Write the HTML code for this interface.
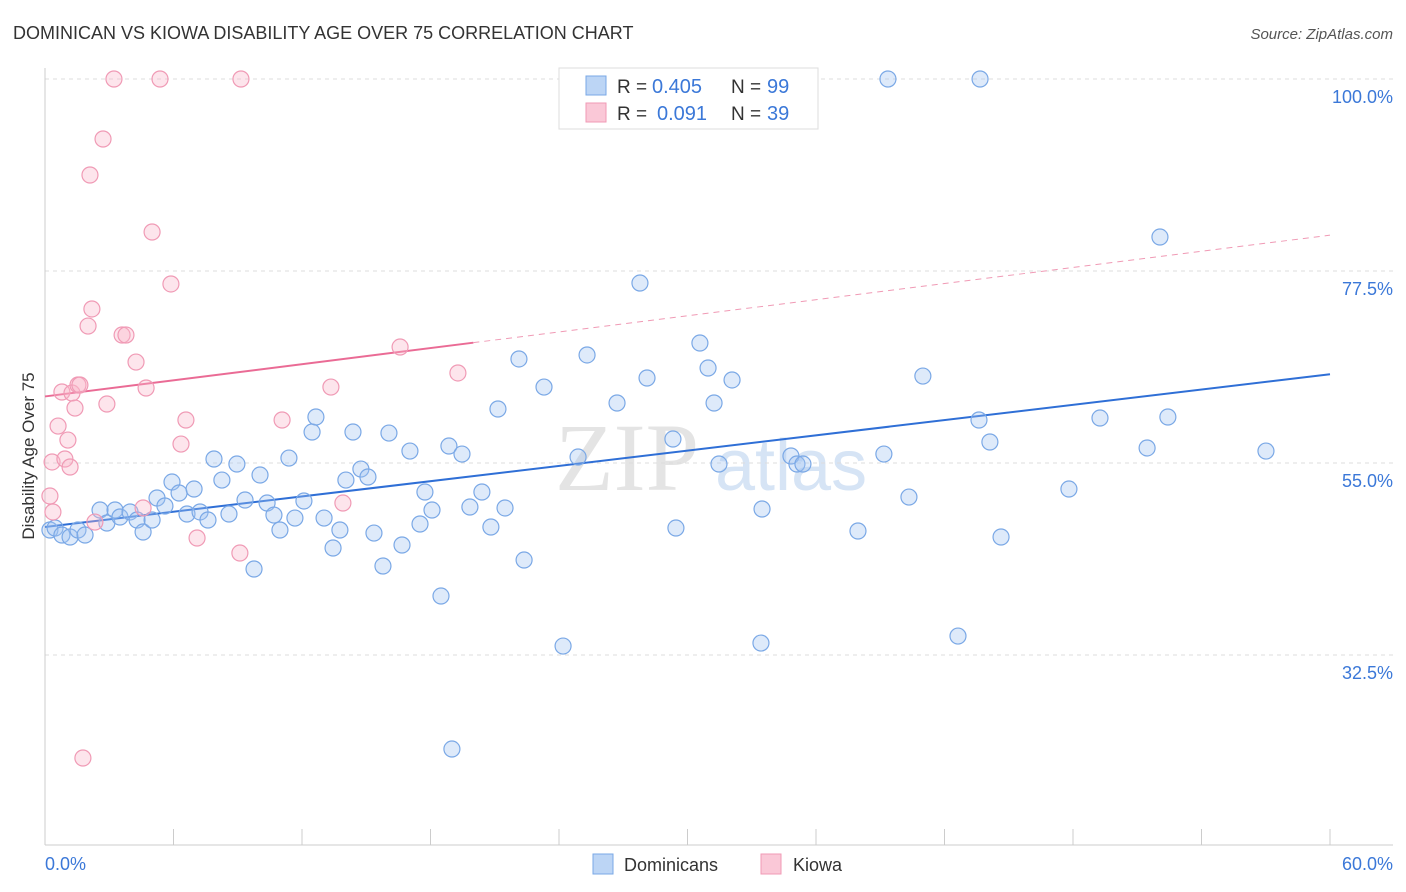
<!DOCTYPE html>
<html><head><meta charset="utf-8"><style>
body{margin:0;background:#fff;font-family:"Liberation Sans",sans-serif;}
#wrap{position:relative;width:1406px;height:892px;overflow:hidden;}
</style></head><body>
<div id="wrap">
<svg id="svg" width="1406" height="892" xmlns="http://www.w3.org/2000/svg">
<text x="13" y="39" font-size="18" fill="#333">DOMINICAN VS KIOWA DISABILITY AGE OVER 75 CORRELATION CHART</text>
<text x="1393" y="39" font-size="15" fill="#555" font-style="italic" text-anchor="end">Source: ZipAtlas.com</text>
<text x="555" y="490" font-size="96" fill="#e4e4e4" font-family="Liberation Serif,serif">ZIP</text>
<text x="715" y="490" font-size="72" fill="#d6e4f5">atlas</text>
<g id="grid"></g><g id="axes"></g><g id="trend"></g><g id="pts"></g>
<text transform="translate(34,456) rotate(-90)" font-size="17" fill="#333" text-anchor="middle">Disability Age Over 75</text>
<text x="45" y="870" font-size="18" fill="#3b78d8">0.0%</text>
<text x="1393" y="870" font-size="18" fill="#3b78d8" text-anchor="end">60.0%</text>
<g>
<rect x="559" y="68" width="259" height="61" fill="#fff" stroke="#ddd"/>
<rect x="586" y="76" width="20" height="19" fill="#bcd5f5" stroke="#7aa8e6"/>
<rect x="586" y="103" width="20" height="19" fill="#fac8d7" stroke="#f09ab5"/>
<text x="617" y="93" font-size="19" fill="#333">R =</text>
<text x="652" y="93" font-size="20" fill="#3b78d8">0.405</text>
<text x="731" y="93" font-size="19" fill="#333">N =</text>
<text x="767" y="93" font-size="20" fill="#3b78d8">99</text>
<text x="617" y="120" font-size="19" fill="#333">R =</text>
<text x="657" y="120" font-size="20" fill="#3b78d8">0.091</text>
<text x="731" y="120" font-size="19" fill="#333">N =</text>
<text x="767" y="120" font-size="20" fill="#3b78d8">39</text>
</g>
<g>
<rect x="593" y="854" width="20" height="20" fill="#bcd5f5" stroke="#7aa8e6"/>
<text x="624" y="871" font-size="18" fill="#333">Dominicans</text></g>
<g>
<rect x="761" y="854" width="20" height="20" fill="#fac8d7" stroke="#f09ab5"/>
<text x="793" y="871" font-size="18" fill="#333">Kiowa</text></g>
</svg>
<script>
const yTicks=[100,77.5,55,32.5];
const yTickLabels=["100.0%","77.5%","55.0%","32.5%"];
const xTicks=[0,6,12,18,24,30,36,42,48,54,60];
const blueX=[0.23,0.47,0.79,1.17,1.54,1.87,2.57,2.89,3.27,3.50,3.97,4.30,4.58,5.0,5.23,5.60,5.93,6.26,6.63,6.96,7.24,7.61,7.89,8.26,8.59,8.96,9.34,9.76,10.04,10.37,10.69,10.97,11.39,11.67,12.09,12.47,12.65,13.03,13.45,13.77,14.05,14.38,14.75,15.08,15.36,15.78,16.06,16.67,17.04,17.51,17.74,18.07,18.49,18.86,19.0,19.47,19.84,20.40,20.82,21.15,21.48,22.13,22.37,23.30,24.19,24.89,25.31,26.71,27.78,28.11,29.32,29.46,30.58,30.96,31.24,31.47,32.08,33.43,33.48,34.83,35.11,35.39,37.96,39.17,39.36,40.34,40.99,42.63,43.61,43.66,44.12,44.64,47.81,49.26,51.46,52.06,52.43,57.01];
const blueY=[47.15,47.38,46.56,46.33,47.15,46.56,49.49,47.97,49.49,48.67,49.26,48.32,46.91,48.32,50.90,49.96,52.77,51.48,49.02,51.95,49.26,48.32,55.47,53.0,49.02,54.88,50.66,42.58,53.59,50.31,48.90,47.15,55.58,48.55,50.55,58.63,60.39,48.55,45.04,47.15,53.0,58.63,54.29,53.36,46.79,42.93,58.51,45.39,56.40,47.85,51.60,49.49,39.41,56.99,21.48,56.05,49.84,51.60,47.50,61.33,49.73,67.19,43.63,63.90,33.55,55.70,67.66,62.03,76.09,64.96,57.81,47.38,69.06,66.13,62.03,54.88,64.73,33.90,49.61,55.82,54.88,54.88,47.03,56.05,100,51.01,65.19,34.72,60.04,100,57.46,46.33,51.95,60.27,56.76,81.48,60.39,56.40];
const pinkX=[0.23,0.33,0.37,0.61,0.79,0.93,1.07,1.17,1.26,1.40,1.54,1.63,1.77,2.01,2.10,2.19,2.33,2.71,2.89,3.22,3.60,3.78,4.25,4.58,4.72,5.0,5.37,5.88,6.35,6.58,7.10,9.10,9.15,11.07,13.35,13.91,16.58,19.28];
const pinkY=[51.13,55.12,49.26,59.33,63.32,55.47,57.69,54.53,63.20,61.44,64.14,64.14,20.43,71.05,88.75,73.05,48.08,92.97,61.91,100,70.0,70.0,66.83,49.73,63.79,82.07,100,75.98,57.22,60.04,46.21,44.45,100,60.04,63.90,50.31,68.59,65.55];
const blueTrend=[47.5,65.4];
const pinkTrend=[62.8,81.7];
const pinkSolidEnd=20;
const NS="http://www.w3.org/2000/svg";
const X=v=>45+v*(1285/60), Y=v=>79+(100-v)*(192/22.5);
function mk(tag,attrs,parent){const e=document.createElementNS(NS,tag);for(const k in attrs)e.setAttribute(k,attrs[k]);document.getElementById(parent).appendChild(e);return e;}
yTicks.forEach((t,i)=>{
 const g=mk('line',{x1:45,x2:1393,y1:Y(t),y2:Y(t),stroke:'#ddd','stroke-dasharray':'4,4'},'grid');
 
 
 const tx=mk('text',{x:1393,y:Y(t)+24,'font-size':18,fill:'#3b78d8','text-anchor':'end'},'grid');
 tx.textContent=yTickLabels[i];
 
 
});
const ax=mk('line',{x1:45,x2:45,y1:68,y2:845,stroke:'#ccc'},'axes');


const bx=mk('line',{x1:45,x2:1393,y1:845,y2:845,stroke:'#ccc'},'axes');


xTicks.forEach(t=>{const l=mk('line',{x1:X(t),x2:X(t),y1:829,y2:845,stroke:'#ccc'},'axes');
 
 });
function pts(xs,ys,fill,stroke,name){xs.forEach((x,i)=>{const c=mk('circle',{cx:X(x),cy:Y(ys[i]),r:8,fill:fill,stroke:stroke,'stroke-width':1.2},'pts');
 
 });}
pts(blueX,blueY,'rgba(160,195,240,0.35)','#7aa8e6','dominican-point');
pts(pinkX,pinkY,'rgba(248,180,200,0.35)','#f09ab5','kiowa-point');
const bl=mk('line',{x1:X(0),y1:Y(blueTrend[0]),x2:X(60),y2:Y(blueTrend[1]),stroke:'#2f6fd6','stroke-width':2},'trend');


const pAt=x=>pinkTrend[0]+(pinkTrend[1]-pinkTrend[0])*x/60;
const pl=mk('line',{x1:X(0),y1:Y(pAt(0)),x2:X(pinkSolidEnd),y2:Y(pAt(pinkSolidEnd)),stroke:'#ea6b95','stroke-width':2},'trend');


const pd=mk('line',{x1:X(pinkSolidEnd),y1:Y(pAt(pinkSolidEnd)),x2:X(60),y2:Y(pAt(60)),stroke:'#f09ab5','stroke-width':1,'stroke-dasharray':'6,5'},'trend');


</script>
</div>
</body></html>
